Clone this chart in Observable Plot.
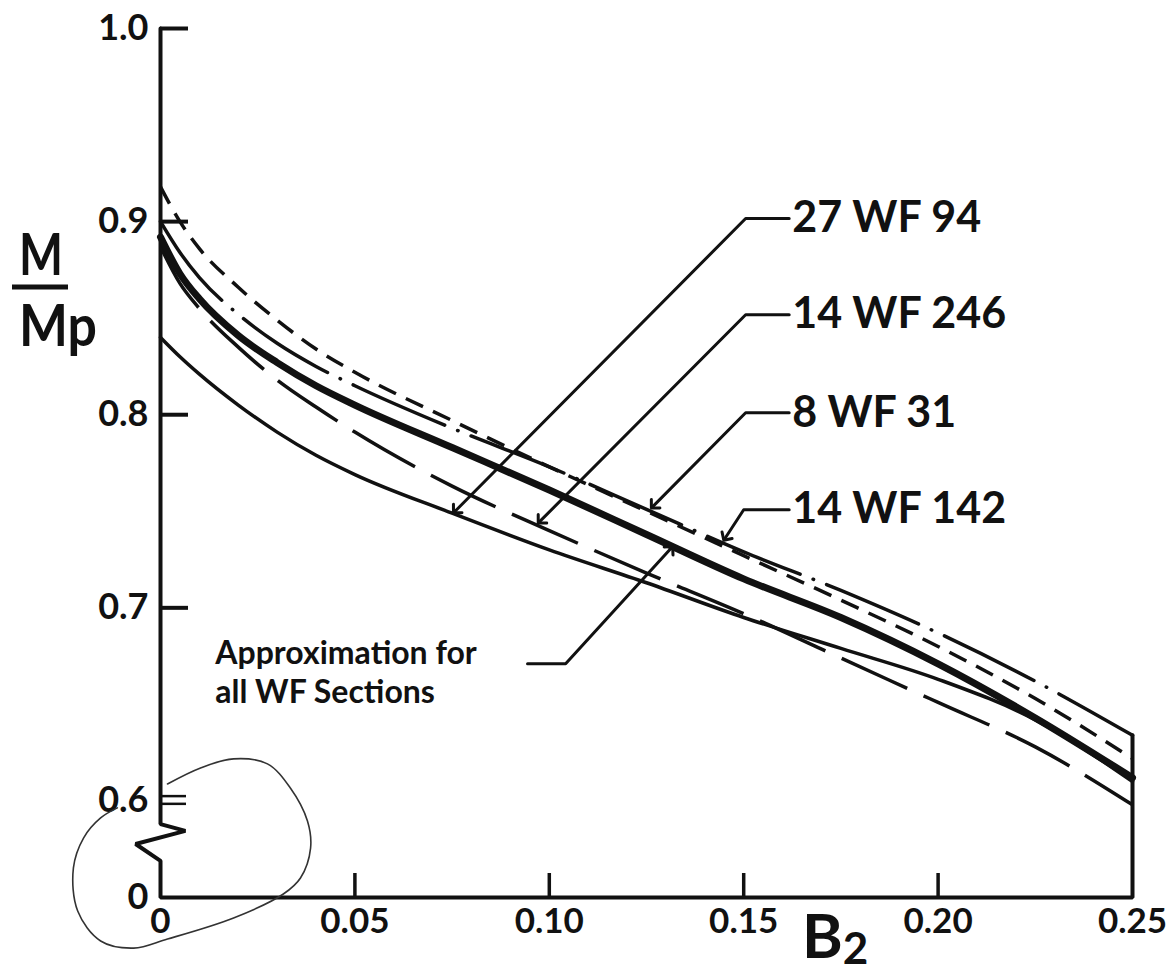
<!DOCTYPE html>
<html>
<head>
<meta charset="utf-8">
<script src="https://cdn.jsdelivr.net/npm/d3@7"></script>
<script src="https://cdn.jsdelivr.net/npm/@observablehq/plot@0.6"></script>
<style>
  html, body { margin: 0; padding: 0; background: #fff; }
  #chart { width: 1172px; height: 973px; }
</style>
</head>
<body>
<div id="chart"></div>
<script>
// ---------- data ----------
const B2 = [0, 0.005, 0.01, 0.02, 0.03, 0.04, 0.05, 0.075, 0.10, 0.125, 0.15, 0.175, 0.20, 0.225, 0.25];
const approxAllWF = [0.892, 0.873, 0.860, 0.841, 0.827, 0.815, 0.805, 0.783, 0.761, 0.738, 0.715, 0.695, 0.671, 0.643, 0.612];
const wf27x94  = [0.840, 0.830, 0.821, 0.805, 0.791, 0.779, 0.769, 0.749, 0.730, 0.713, 0.695, 0.679, 0.663, 0.642, 0.610];
const wf14x246 = [0.887, 0.868, 0.855, 0.835, 0.818, 0.804, 0.791, 0.763, 0.740, 0.718, 0.697, 0.674, 0.651, 0.628, 0.598];
const wf8x31   = [0.900, 0.884, 0.871, 0.852, 0.837, 0.825, 0.815, 0.793, 0.773, 0.751, 0.729, 0.709, 0.687, 0.662, 0.634];
const wf14x142 = [0.918, 0.900, 0.886, 0.866, 0.849, 0.834, 0.822, 0.797, 0.773, 0.750, 0.727, 0.704, 0.680, 0.653, 0.622];

// axis ticks and labels
const yTickValues = [0.7, 0.8, 0.9, 1.0];
const yBreakTicks = [0.6025, 0.5985];
const yLabelValues = [1.0, 0.9, 0.8, 0.7, 0.6, 0.55];
const yLabelText = ["1.0", "0.9", "0.8", "0.7", "0.6", "0"];
const xTickValues = [0.05, 0.10, 0.15, 0.20];
const xLabelValues = [0, 0.05, 0.10, 0.15, 0.20, 0.25];
const xLabelText = ["0", "0.05", "0.10", "0.15", "0.20", "0.25"];

// broken axis outline (zig-zag between 0 and 0.6, closing line at B2 = 0.25)
const frameX = [0, 0, 0.0064, -0.0064, 0, 0, 0.25, 0.25];
const frameY = [1.0, 0.588, 0.5845, 0.5777, 0.569, 0.55, 0.55, 0.634];

// section labels with leaders
const sectionLabels = ["27 WF 94", "14 WF 246", "8 WF 31", "14 WF 142"];
const sectionLabelY = [0.9016, 0.8518, 0.801, 0.7508];
const sectionLabelX = 0.1625;
const leaderElbowX = [0.1505, 0.1505, 0.1505, 0.150];
const leaderTipX = [0.0759, 0.0977, 0.1268, 0.1453];
const leaderTipY = [0.7503, 0.745, 0.7528, 0.7363];

// approximation note (two lines)
const approxNoteLines = ["Approximation for", "all WF Sections"];
const approxNoteY = [0.676, 0.656];
const approxNoteX = 0.0141;
const approxLeaderX = [0.0944, 0.1042, 0.1312];
const approxLeaderY = [0.671, 0.671, 0.7306];

// hand-drawn loop around the origin
const loopX = [0.0018, 0.0103, 0.0188, 0.0275, 0.0334, 0.0378, 0.0386, 0.0360, 0.0316, 0.0188, 0.0018, -0.0069, -0.0154, -0.0213, -0.0224, -0.0198, -0.0154, -0.0111];
const loopY = [0.6088, 0.6171, 0.6218, 0.6192, 0.6067, 0.5896, 0.5756, 0.5601, 0.5518, 0.5394, 0.5285, 0.5238, 0.5275, 0.5430, 0.5653, 0.5808, 0.5912, 0.5964];

// ---------- chart ----------
const FONT = "Lato, 'Open Sans', 'DejaVu Sans', sans-serif";
const INK = "#111";
const W = 1172, H = 973, mL = 160, mR = 40, mT = 28, mB = 76;
const frameW = W - mL - mR, frameH = H - mT - mB;

const leaderRows = sectionLabels.flatMap((k, i) => [
  {k, x: sectionLabelX - 0.0008, y: sectionLabelY[i]},
  {k, x: leaderElbowX[i], y: sectionLabelY[i]},
  {k, x: leaderTipX[i], y: leaderTipY[i]}
]);

const curveOpts = {x: B2, curve: "monotone-x", stroke: INK, strokeLinecap: "round"};

const chart = Plot.plot({
  width: W, height: H,
  marginLeft: mL, marginRight: mR, marginTop: mT, marginBottom: mB,
  x: {domain: [0, 0.25], axis: null},
  y: {domain: [0.55, 1.0], axis: null},
  style: {background: "#fff", fontFamily: FONT, color: INK},
  marks: [
    // axes
    Plot.line(frameX, {x: frameX, y: frameY, stroke: INK, strokeWidth: 4, strokeLinejoin: "miter"}),
    Plot.ruleY(yTickValues, {y: d => d, insetRight: frameW - 28, stroke: INK, strokeWidth: 4}),
    Plot.ruleY(yBreakTicks, {y: d => d, insetRight: frameW - 26, stroke: INK, strokeWidth: 2.5}),
    Plot.ruleX(xTickValues, {x: d => d, insetTop: frameH - 24, stroke: INK, strokeWidth: 3.5}),
    Plot.text(yLabelValues, {x: 0, y: d => d, text: (d, i) => yLabelText[i], dx: -12, textAnchor: "end",
      fontSize: 36, fontWeight: "bold", fill: INK}),
    Plot.text(xLabelValues, {x: d => d, y: 0.55, text: (d, i) => xLabelText[i], dy: 24,
      fontSize: 35, fontWeight: "bold", fill: INK}),
    // curves
    Plot.line(wf27x94, {...curveOpts, y: wf27x94, strokeWidth: 3.5}),
    Plot.line(wf14x246, {...curveOpts, y: wf14x246, strokeWidth: 3.5, strokeDasharray: "72 18", strokeLinecap: "butt"}),
    Plot.line(wf8x31, {...curveOpts, y: wf8x31, strokeWidth: 3.5, strokeDasharray: "100 14 0.5 14"}),
    Plot.line(wf14x142, {...curveOpts, y: wf14x142, strokeWidth: 3.5, strokeDasharray: "19 11", strokeLinecap: "butt"}),
    Plot.line(approxAllWF, {...curveOpts, y: approxAllWF, strokeWidth: 7}),
    // leaders and labels
    Plot.line(leaderRows, {x: "x", y: "y", z: "k", stroke: INK, strokeWidth: 3, markerEnd: "arrow"}),
    Plot.text(sectionLabels, {x: sectionLabelX, y: (d, i) => sectionLabelY[i], text: d => d, textAnchor: "start",
      fontSize: 43, fontWeight: "bold", fill: INK}),
    Plot.line(approxLeaderX, {x: approxLeaderX, y: approxLeaderY, stroke: INK, strokeWidth: 3, markerEnd: "arrow"}),
    Plot.text(approxNoteLines, {x: approxNoteX, y: (d, i) => approxNoteY[i], text: d => d, textAnchor: "start",
      fontSize: 32, fontWeight: "bold", fill: INK}),
    // hand-drawn loop
    Plot.line(loopX, {x: loopX, y: loopY, curve: "catmull-rom", stroke: "#333", strokeWidth: 1.6})
  ]
});

document.getElementById("chart").appendChild(chart);

// axis titles: M / Mp (fraction) and B2 (subscript)
const svg = d3.select(chart);
const g = svg.append("g").attr("font-family", FONT).attr("font-weight", "bold").attr("fill", INK)
  .attr("text-anchor", "start");
g.append("text").attr("x", 19).attr("y", 275).attr("font-size", 58)
  .attr("textLength", 44).attr("lengthAdjust", "spacingAndGlyphs").text("M");
g.append("line").attr("x1", 12).attr("x2", 68).attr("y1", 287).attr("y2", 287).attr("stroke", INK).attr("stroke-width", 5);
g.append("text").attr("x", 19).attr("y", 346).attr("font-size", 58)
  .attr("textLength", 78).attr("lengthAdjust", "spacingAndGlyphs").text("Mp");
const b2 = g.append("text").attr("x", 802).attr("y", 958).attr("font-size", 62);
b2.append("tspan").text("B");
b2.append("tspan").attr("font-size", 44).attr("dy", 6).text("2");
</script>
</body>
</html>
